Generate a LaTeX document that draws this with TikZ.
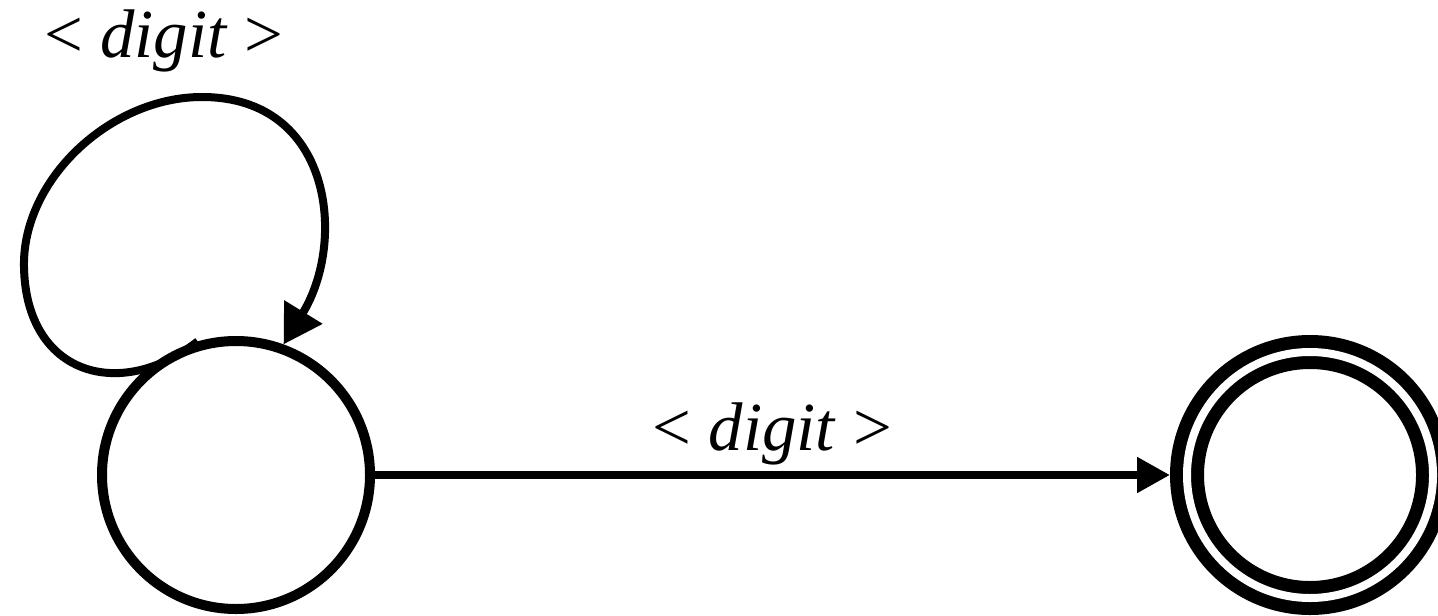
\documentclass[tikz,border=0pt]{standalone}
\usepackage{fontspec}
\setmainfont{Liberation Serif}
\usetikzlibrary{arrows.meta, positioning}

\begin{document}
\begin{tikzpicture}[
  x=0.5pt, y=-0.5pt,
  node distance=397.5pt,
  stat/.style={circle, draw=black, line width=5pt, minimum size=134pt,
               inner sep=0pt},
  acpt/.style={circle, draw=black, line width=6.5pt, double=white,
               double distance=4pt, minimum size=123pt, inner sep=0pt,
               outer sep=8.5pt},
  lbl/.style={font=\fontsize{34.4}{40}\selectfont, inner sep=0pt},
  arr/.style={-{Triangle[length=16.5pt, width=17pt]}, line width=4pt},
  looparr/.style={-{Triangle[length=19pt, width=21.5pt]}, line width=4pt}
]
\useasboundingbox (0,0) rectangle (1438,615);

\node[stat] (q0) at (236,475) {};
\node[acpt, right=of q0] (q1) {};

% self loop on the start state
\draw[looparr] (q0.106) .. controls (120,402) and (26,375) .. (24,267)
  .. controls (22,180) and (110,97) .. (202,97)
  .. controls (332,97) and (347,241) .. (q0.70);
\node[lbl, anchor=base] (lab0) at (164,58) {< \textit{digit} >};

\draw[arr] (q0) -- node[lbl, midway, above=3pt] (lab1) {< \textit{digit} >} (q1);
\end{tikzpicture}
\end{document}
